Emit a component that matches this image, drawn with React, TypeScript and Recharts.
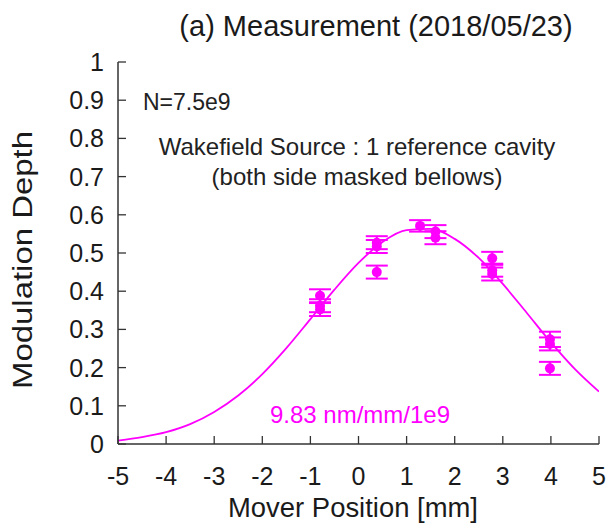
import React from "react";
import {
  ComposedChart,
  Line,
  Scatter,
  ErrorBar,
  XAxis,
  YAxis,
} from "recharts";

// Gaussian fit through the scan (sampled every 0.5 mm)
const fitPositions = [
  -5, -4.5, -4, -3.5, -3, -2.5, -2, -1.5, -1, -0.5, 0, 0.5, 1, 1.5, 2, 2.5, 3,
  3.5, 4, 4.5, 5,
];
const fitDepths = [
  0.009, 0.018, 0.031, 0.052, 0.084, 0.127, 0.183, 0.251, 0.327, 0.404, 0.474,
  0.529, 0.56, 0.563, 0.537, 0.487, 0.419, 0.343, 0.266, 0.196, 0.137,
];

// Measured modulation depth at each mover position
const measPositions = [
  -0.8, -0.8, -0.8, 0.38, 0.38, 0.38, 1.28, 1.6, 1.6, 2.78, 2.78, 2.78, 3.98,
  3.98, 3.98,
];
const measDepths = [
  0.388, 0.362, 0.352, 0.527, 0.517, 0.45, 0.571, 0.556, 0.54, 0.486, 0.455,
  0.445, 0.274, 0.262, 0.198,
];
const measErrors = [
  0.017, 0.017, 0.017, 0.017, 0.017, 0.017, 0.015, 0.017, 0.017, 0.017, 0.017,
  0.017, 0.02, 0.017, 0.017,
];

const xTicks = [-5, -4, -3, -2, -1, 0, 1, 2, 3, 4, 5];
const yTicks = [0, 0.1, 0.2, 0.3, 0.4, 0.5, 0.6, 0.7, 0.8, 0.9, 1];

const fitData = fitPositions.map((x, i) => ({ x, y: fitDepths[i] }));
const measData = measPositions.map((x, i) => ({
  x,
  y: measDepths[i],
  err: measErrors[i],
}));

const MAGENTA = "#ff00ff";
const INK = "#1a1a1a";
const FRAME = "#333";
const FONT = "'Liberation Sans', Arial, Helvetica, sans-serif";
const TICK_LEN = 8;

const BottomTick = (props: any) => {
  const { x, y, payload } = props;
  return (
    <g>
      <line x1={x} x2={x} y1={y} y2={y - TICK_LEN} stroke={FRAME} strokeWidth={1.3} />
      <text x={x} y={y + 41} textAnchor="middle" fontSize={25} fontFamily={FONT} fill={INK}>
        {String(payload.value)}
      </text>
    </g>
  );
};

const TopTick = (props: any) => {
  const { x, y } = props;
  return <line x1={x} x2={x} y1={y} y2={y + TICK_LEN} stroke={FRAME} strokeWidth={1.3} />;
};

const LeftTick = (props: any) => {
  const { x, y, payload } = props;
  return (
    <g>
      <line x1={x} x2={x + TICK_LEN} y1={y} y2={y} stroke={FRAME} strokeWidth={1.3} />
      <text x={x - 14} y={y + 9} textAnchor="end" fontSize={25} fontFamily={FONT} fill={INK}>
        {String(payload.value)}
      </text>
    </g>
  );
};

const RightTick = (props: any) => {
  const { x, y } = props;
  return <line x1={x} x2={x - TICK_LEN} y1={y} y2={y} stroke={FRAME} strokeWidth={1.3} />;
};

const Dot = (props: any) => {
  const { cx, cy } = props;
  if (cx == null || cy == null) return null;
  return <circle cx={cx} cy={cy} r={5} fill={MAGENTA} />;
};

export default function App() {
  return (
    <div
      style={{
        position: "absolute",
        left: 0,
        top: 0,
        width: 611,
        height: 525,
        background: "#fff",
      }}
    >
      <ComposedChart
        width={611}
        height={525}
        margin={{ top: 62, right: 12, left: 0, bottom: 0 }}
      >
        <XAxis
          xAxisId="bottom"
          dataKey="x"
          type="number"
          domain={[-5, 5]}
          ticks={xTicks}
          height={81}
          tickLine={false}
          tickSize={0}
          tickMargin={0}
          tick={<BottomTick />}
          axisLine={{ stroke: FRAME, strokeWidth: 1.5 }}
          allowDataOverflow
        />
        <XAxis
          xAxisId="top"
          orientation="top"
          dataKey="x"
          type="number"
          domain={[-5, 5]}
          ticks={xTicks}
          height={0}
          tickLine={false}
          tickSize={0}
          tickMargin={0}
          tick={<TopTick />}
          axisLine={{ stroke: FRAME, strokeWidth: 1.5 }}
          allowDataOverflow
        />
        <YAxis
          yAxisId="left"
          dataKey="y"
          type="number"
          domain={[0, 1]}
          ticks={yTicks}
          width={118}
          tickLine={false}
          tickSize={0}
          tickMargin={0}
          tick={<LeftTick />}
          axisLine={{ stroke: FRAME, strokeWidth: 1.5 }}
          allowDataOverflow
        />
        <YAxis
          yAxisId="right"
          orientation="right"
          dataKey="y"
          type="number"
          domain={[0, 1]}
          ticks={yTicks}
          width={0}
          tickLine={false}
          tickSize={0}
          tickMargin={0}
          tick={<RightTick />}
          axisLine={{ stroke: FRAME, strokeWidth: 1.5 }}
          allowDataOverflow
        />
        <Line
          xAxisId="bottom"
          yAxisId="left"
          data={fitData}
          dataKey="y"
          type="monotone"
          stroke={MAGENTA}
          strokeWidth={1.8}
          dot={false}
          activeDot={false}
          isAnimationActive={false}
        />
        <Scatter
          xAxisId="bottom"
          yAxisId="left"
          data={measData}
          dataKey="y"
          fill={MAGENTA}
          shape={<Dot />}
          isAnimationActive={false}
        >
          <ErrorBar
            dataKey="err"
            direction="y"
            width={11}
            stroke={MAGENTA}
            strokeWidth={2}
            isAnimationActive={false}
          />
        </Scatter>
      </ComposedChart>

      <svg
        width={611}
        height={525}
        style={{ position: "absolute", left: 0, top: 0, pointerEvents: "none" }}
      >
        <text x={376} y={36} textAnchor="middle" fontSize={29} fontFamily={FONT} fill={INK}>
          (a) Measurement (2018/05/23)
        </text>
        <text
          x={353}
          y={517}
          textAnchor="middle"
          fontSize={27}
          fontFamily={FONT}
          fill={INK}
          textLength={250}
          lengthAdjust="spacingAndGlyphs"
        >
          Mover Position [mm]
        </text>
        <text
          x={32}
          y={260}
          textAnchor="middle"
          fontSize={27}
          fontFamily={FONT}
          fill={INK}
          textLength={258}
          lengthAdjust="spacingAndGlyphs"
          transform="rotate(-90 32 260)"
        >
          Modulation Depth
        </text>
        <text x={143} y={110} fontSize={23} fontFamily={FONT} fill="#222">
          N=7.5e9
        </text>
        <text x={357} y={155} textAnchor="middle" fontSize={24} fontFamily={FONT} fill="#222">
          Wakefield Source : 1 reference cavity
        </text>
        <text x={357} y={185} textAnchor="middle" fontSize={24} fontFamily={FONT} fill="#222">
          (both side masked bellows)
        </text>
        <text x={360} y={423} textAnchor="middle" fontSize={24} fontFamily={FONT} fill={MAGENTA}>
          9.83 nm/mm/1e9
        </text>
      </svg>
    </div>
  );
}
